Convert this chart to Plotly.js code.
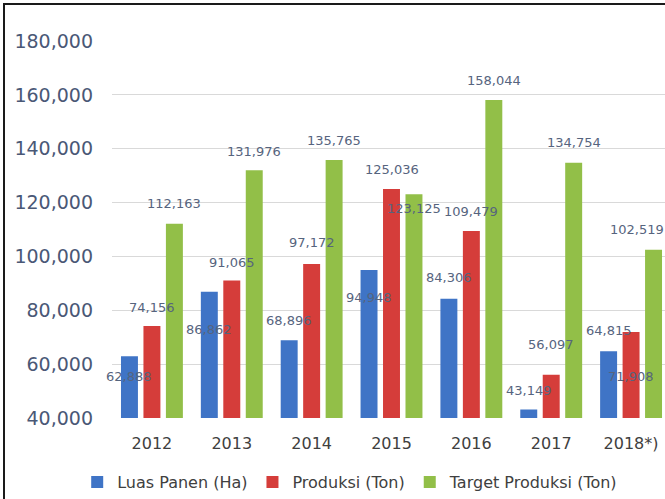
<!DOCTYPE html>
<html><head><meta charset="utf-8">
<script src="https://cdn.plot.ly/plotly-3.0.1.min.js"></script>
<style>
html,body{margin:0;padding:0;width:665px;height:499px;overflow:hidden;background:#fff;}
#chart{position:absolute;left:0;top:0;width:680px;height:499px;}
#frame{position:absolute;left:3px;top:3px;width:700px;height:520px;border-left:2px solid #1a1a1a;border-top:2px solid #1a1a1a;pointer-events:none;}
</style></head><body>
<div id="chart"></div><div id="frame"></div>
<script>
// ---- data ----
const years = ['2012', '2013', '2014', '2015', '2016', '2017', '2018*)'];
const luasPanen = [62888, 86862, 68896, 94948, 84306, 43149, 64815];
const produksi = [74156, 91065, 97172, 125036, 109479, 56097, 71908];
const targetProduksi = [112163, 131976, 135765, 123125, 158044, 134754, 102519];
const seriesNames = ['Luas Panen (Ha)', 'Produksi (Ton)', 'Target Produksi (Ton)'];
const yTickValues = [40000, 60000, 80000, 100000, 120000, 140000, 160000, 180000];

// ---- style ----
const colors = ['#3f74c6', '#d53d3a', '#92bf48'];
const labelDy = [[-20, -38, 20, -27, 21, 19, 21], [19, 18, 22, 20, 19, 30, -44], [20, 19, 20, -14, 20, 20, 20]];
const labelDx = [[0, 0, 0, 0, 0, 0, 0], [0, 0, 0, 0, 0, 0, 0], [0, 0, 0, 0, 0, 0, -17]];
const W = 680, H = 499;
const margin = {l: 112, r: 9, t: 41, b: 81};
const bargap = 0.156, bargroupgap = 0.245;
const catW = (W - margin.l - margin.r) / years.length;
const slot = (1 - bargap) * catW / 3;
const seriesShift = [-slot, 0, slot];

const allSeries = [luasPanen, produksi, targetProduksi];
const traces = allSeries.map((vals, s) => ({
  type: 'bar', x: years, y: vals, name: seriesNames[s],
  marker: {color: colors[s]}, hoverinfo: 'skip'
}));

const annotations = [];
allSeries.forEach((vals, s) => {
  vals.forEach((v, i) => {
    annotations.push({
      x: i, y: v, xref: 'x', yref: 'y',
      text: v.toLocaleString('en-US'), showarrow: false,
      xanchor: 'center', yanchor: 'middle',
      xshift: seriesShift[s] + labelDx[s][i], yshift: labelDy[s][i],
      font: {family: 'DejaVu Sans', size: 13, color: '#56647e'}
    });
  });
});

const layout = {
  width: W, height: H, margin: margin,
  paper_bgcolor: 'rgba(0,0,0,0)', plot_bgcolor: '#fff',
  barmode: 'group', bargap: bargap, bargroupgap: bargroupgap,
  showlegend: true,
  legend: {orientation: 'h', xref: 'container', yref: 'container', x: 0.515, y: 0.034,
    xanchor: 'center', yanchor: 'middle', font: {family: 'DejaVu Sans', size: 16, color: '#404040'},
    itemwidth: 30, tracegroupgap: 0},
  xaxis: {type: 'category', range: [-0.5, years.length - 0.5], showgrid: false, zeroline: false, showline: false, ticks: '',
    tickfont: {family: 'DejaVu Sans', size: 16, color: '#404040'}, ticklabelstandoff: 14},
  yaxis: {range: [40000, 180000], tickvals: yTickValues, tickformat: ',', showgrid: true,
    gridcolor: '#d9d9d9', gridwidth: 1, zeroline: false, showline: false, ticks: '',
    tickfont: {family: 'DejaVu Sans', size: 19, color: '#4a5876'}, ticklabelstandoff: 18},
  annotations: annotations
};
Plotly.newPlot('chart', traces, layout, {staticPlot: true, displayModeBar: false});
</script>
</body></html>
